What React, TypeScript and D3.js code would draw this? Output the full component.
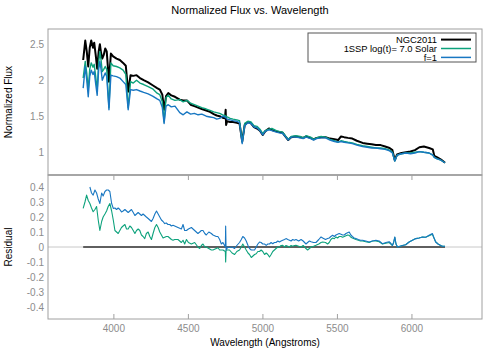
import React from "react";
import * as d3 from "d3";

// spectrum, top panel
const wave = [3794, 3808, 3818, 3828, 3838, 3848, 3860, 3868, 3878, 3888, 3898, 3906, 3914, 3922, 3932, 3942, 3952, 3967, 3980, 3995,
  4018, 4040, 4062, 4080, 4096, 4112, 4130, 4152, 4175, 4200, 4230, 4260, 4290, 4308, 4325, 4337, 4350, 4365, 4385, 4410,
  4442, 4465, 4490, 4515, 4540, 4565, 4590, 4620, 4645, 4670, 4690, 4710, 4730, 4745, 4750, 4753, 4760, 4780, 4800, 4825,
  4843, 4861, 4878, 4899, 4920, 4940, 4960, 4980, 4999, 5015, 5040, 5060, 5090, 5110, 5133, 5150, 5170, 5190, 5220, 5250,
  5270, 5290, 5320, 5340, 5360, 5390, 5420, 5450, 5480, 5505, 5524, 5545, 5570, 5600, 5630, 5669, 5700, 5730, 5758, 5790,
  5820, 5850, 5869, 5885, 5900, 5930, 5960, 5990, 6020, 6050, 6080, 6115, 6140, 6150, 6170, 6195, 6222];
const ngc2011 = [2.28, 2.55, 2.40, 2.19, 2.45, 2.55, 2.45, 2.52, 2.35, 2.16, 2.40, 2.50, 2.38, 2.30, 2.35, 2.44, 2.40, 1.98, 2.37, 2.33,
  2.30, 2.28, 2.24, 2.20, 1.84, 2.07, 2.06, 2.07, 2.03, 2.00, 1.97, 1.93, 1.89, 1.87, 1.80, 1.59, 1.78, 1.82, 1.79, 1.77,
  1.73, 1.72, 1.72, 1.66, 1.64, 1.62, 1.60, 1.58, 1.56, 1.53, 1.51, 1.50, 1.48, 1.47, 1.59, 1.38, 1.43, 1.42, 1.42, 1.41,
  1.40, 1.15, 1.38, 1.42, 1.40, 1.35, 1.33, 1.30, 1.24, 1.29, 1.33, 1.31, 1.29, 1.28, 1.27, 1.22, 1.17, 1.21, 1.22, 1.21,
  1.20, 1.22, 1.20, 1.18, 1.20, 1.21, 1.21, 1.19, 1.18, 1.17, 1.22, 1.21, 1.20, 1.19, 1.16, 1.13, 1.12, 1.11, 1.10, 1.10,
  1.08, 1.06, 1.03, 0.89, 0.97, 0.99, 1.00, 1.01, 1.03, 1.07, 1.08, 1.06, 1.04, 0.95, 0.93, 0.90, 0.855];
const ssp = [2.03, 2.26, 2.10, 1.87, 2.15, 2.24, 2.18, 2.22, 2.05, 1.86, 2.25, 2.40, 2.28, 2.12, 2.15, 2.19, 2.15, 1.62, 2.24, 2.20,
  2.19, 2.17, 2.14, 2.08, 1.62, 1.98, 1.96, 2.00, 1.96, 1.94, 1.91, 1.88, 1.82, 1.80, 1.70, 1.42, 1.76, 1.79, 1.74, 1.72,
  1.73, 1.70, 1.72, 1.68, 1.66, 1.64, 1.62, 1.60, 1.58, 1.56, 1.55, 1.54, 1.52, 1.51, 1.50, 1.50, 1.49, 1.47, 1.46, 1.45,
  1.44, 1.14, 1.40, 1.43, 1.42, 1.37, 1.36, 1.32, 1.26, 1.30, 1.32, 1.33, 1.30, 1.29, 1.28, 1.23, 1.18, 1.22, 1.23, 1.22,
  1.20, 1.23, 1.21, 1.18, 1.20, 1.22, 1.21, 1.18, 1.16, 1.14, 1.16, 1.15, 1.14, 1.13, 1.11, 1.09, 1.08, 1.07, 1.06, 1.06,
  1.05, 1.03, 1.00, 0.88, 0.96, 0.98, 0.99, 0.99, 1.00, 1.01, 1.00, 0.99, 0.96, 0.93, 0.91, 0.89, 0.855];
const fit = [1.89, 2.19, 2.00, 1.77, 2.05, 2.14, 2.08, 2.12, 1.95, 1.79, 2.15, 2.26, 2.15, 2.00, 2.05, 2.10, 2.05, 1.59, 2.07, 2.06,
  2.05, 2.03, 1.98, 1.94, 1.59, 1.87, 1.86, 1.87, 1.85, 1.83, 1.81, 1.78, 1.74, 1.72, 1.62, 1.40, 1.64, 1.66, 1.63, 1.64,
  1.55, 1.52, 1.56, 1.53, 1.54, 1.52, 1.53, 1.50, 1.49, 1.48, 1.46, 1.47, 1.50, 1.49, 1.48, 1.48, 1.46, 1.45, 1.44, 1.43,
  1.41, 1.12, 1.37, 1.41, 1.40, 1.35, 1.34, 1.30, 1.24, 1.29, 1.31, 1.30, 1.28, 1.27, 1.26, 1.22, 1.17, 1.21, 1.21, 1.20,
  1.19, 1.21, 1.19, 1.17, 1.19, 1.20, 1.20, 1.17, 1.15, 1.14, 1.15, 1.14, 1.13, 1.12, 1.10, 1.08, 1.07, 1.06, 1.06, 1.05,
  1.04, 1.02, 0.99, 0.88, 0.96, 0.98, 0.99, 0.98, 0.99, 1.01, 1.00, 0.99, 0.96, 0.93, 0.91, 0.89, 0.855];

// residuals, bottom panel
const resWave = [3794, 3806, 3817, 3828, 3839, 3850, 3861, 3873, 3884, 3895, 3906, 3918, 3928, 3940, 3951, 3962, 3973, 3985, 3996, 4007,
  4018, 4029, 4040, 4051, 4062, 4074, 4085, 4096, 4107, 4118, 4130, 4141, 4152, 4163, 4174, 4185, 4196, 4207, 4218, 4230,
  4241, 4252, 4263, 4275, 4286, 4297, 4308, 4319, 4330, 4341, 4352, 4363, 4375, 4386, 4397, 4408, 4430, 4453, 4464, 4475,
  4487, 4500, 4520, 4542, 4564, 4576, 4587, 4598, 4610, 4620, 4637, 4654, 4665, 4687, 4698, 4710, 4721, 4732, 4748, 4750,
  4753, 4765, 4776, 4793, 4810, 4825, 4843, 4855, 4865, 4877, 4888, 4900, 4910, 4922, 4933, 4944, 4955, 4966, 4977, 4988,
  4999, 5011, 5022, 5033, 5044, 5055, 5066, 5077, 5088, 5100, 5111, 5122, 5133, 5145, 5155, 5167, 5178, 5189, 5200, 5211,
  5222, 5240, 5256, 5270, 5289, 5300, 5312, 5323, 5340, 5356, 5375, 5390, 5401, 5420, 5434, 5445, 5456, 5468, 5479, 5490,
  5501, 5512, 5524, 5535, 5546, 5557, 5568, 5579, 5590, 5600, 5612, 5624, 5640, 5655, 5669, 5690, 5713, 5735, 5758, 5780,
  5802, 5825, 5847, 5858, 5869, 5877, 5885, 5893, 5903, 5920, 5936, 5958, 5981, 6003, 6026, 6048, 6070, 6092, 6115, 6137,
  6148, 6159, 6175, 6193, 6205, 6222];
const resSsp = [0.257, 0.30, 0.346, 0.31, 0.29, 0.26, 0.235, 0.25, 0.27, 0.18, 0.11, 0.17, 0.20, 0.22, 0.24, 0.27, 0.29, 0.24, 0.18, 0.11,
  0.10, 0.09, 0.11, 0.13, 0.14, 0.15, 0.12, 0.12, 0.14, 0.13, 0.11, 0.09, 0.11, 0.12, 0.11, 0.08, 0.07, 0.056, 0.09, 0.10,
  0.07, 0.05, 0.09, 0.13, 0.15, 0.13, 0.10, 0.08, 0.06, 0.065, 0.07, 0.07, 0.06, 0.05, 0.045, 0.05, 0.05, 0.03, 0.045, 0.02,
  0.05, 0.03, 0.02, 0.03, 0.00, -0.01, 0.01, 0.02, 0.00, 0.00, -0.01, -0.02, -0.02, -0.01, -0.005, -0.02, -0.02, -0.02, -0.03, -0.10,
  -0.02, -0.02, -0.02, -0.04, -0.05, -0.03, -0.02, 0.00, 0.02, 0.00, -0.02, -0.04, -0.05, -0.07, -0.06, -0.05, -0.045, -0.03, -0.03, -0.02,
  -0.03, -0.05, -0.04, -0.05, -0.067, -0.05, -0.03, -0.02, -0.01, 0.00, 0.00, 0.01, 0.011, 0.00, 0.01, 0.005, 0.00, 0.01, 0.005, 0.01,
  0.011, 0.005, 0.00, 0.01, -0.01, -0.02, -0.01, 0.00, 0.005, 0.011, 0.02, 0.03, 0.033, 0.03, 0.02, 0.03, 0.05, 0.06, 0.055, 0.067,
  0.06, 0.07, 0.07, 0.065, 0.07, 0.075, 0.08, 0.078, 0.065, 0.06, 0.055, 0.05, 0.045, 0.04, 0.04, 0.035, 0.03, 0.04, 0.04, 0.035,
  0.02, 0.025, 0.03, 0.02, 0.01, 0.03, 0.065, 0.02, 0.00, 0.005, 0.01, 0.015, 0.033, 0.045, 0.056, 0.06, 0.067, 0.065, 0.075, 0.085,
  0.06, 0.035, 0.02, 0.01, 0.005, 0.005];
const resFit = [null, null, null, null, 0.40, 0.36, 0.346, 0.38, 0.36, 0.32, 0.29, 0.36, 0.34, 0.37, 0.38, 0.38, 0.37, 0.29, 0.257, 0.26,
  0.25, 0.26, 0.25, 0.234, 0.24, 0.25, 0.24, 0.23, 0.24, 0.25, 0.23, 0.21, 0.22, 0.23, 0.22, 0.21, 0.22, 0.21, 0.20, 0.19,
  0.18, 0.17, 0.19, 0.22, 0.24, 0.22, 0.20, 0.18, 0.17, 0.156, 0.16, 0.15, 0.15, 0.14, 0.145, 0.14, 0.13, 0.12, 0.15, 0.11,
  0.11, 0.12, 0.13, 0.11, 0.09, 0.10, 0.11, 0.11, 0.09, 0.08, 0.10, 0.09, 0.08, 0.07, 0.07, 0.05, 0.02, 0.03, 0.00, 0.14,
  -0.02, 0.00, -0.003, 0.00, -0.01, 0.01, 0.03, 0.05, 0.07, 0.06, 0.04, 0.01, -0.01, -0.02, -0.02, -0.02, 0.00, 0.02, 0.033, 0.03,
  0.02, 0.02, 0.011, 0.02, 0.02, 0.03, 0.022, 0.03, 0.03, 0.04, 0.033, 0.04, 0.045, 0.05, 0.056, 0.05, 0.045, 0.04, 0.05, 0.045,
  0.05, 0.04, 0.05, 0.04, 0.02, 0.03, 0.04, 0.035, 0.03, 0.03, 0.05, 0.067, 0.06, 0.05, 0.056, 0.06, 0.07, 0.078, 0.07, 0.08,
  0.085, 0.09, 0.085, 0.08, 0.08, 0.09, 0.095, 0.10, 0.08, 0.07, 0.06, 0.056, 0.05, 0.045, 0.045, 0.04, 0.033, 0.04, 0.045, 0.04,
  0.022, 0.03, 0.035, 0.025, 0.01, 0.03, 0.067, 0.02, 0.00, 0.005, 0.01, 0.015, 0.033, 0.045, 0.056, 0.06, 0.067, 0.065, 0.078, 0.09,
  0.06, 0.033, 0.02, 0.01, 0.005, 0.005];

const xTicks = [4000, 4500, 5000, 5500, 6000];
const fluxTicks = [1, 1.5, 2, 2.5];
const resTicks = [-0.4, -0.3, -0.2, -0.1, 0, 0.1, 0.2, 0.3, 0.4];
const legendNames = ["NGC2011", "1SSP log(t)= 7.0 Solar", "f=1"];

const BLACK = "#000000";
const GREEN = "#0da27c";
const BLUE = "#1877c2";
const GRID = "#a0a0a0";
const LABEL = "#8c8c8c";
const FONT = "'Liberation Sans', Arial, sans-serif";

const left = 48, right = 482;
const topY0 = 29, topY1 = 175;
const botY0 = 175, botY1 = 319;

export default function App() {
  const x = d3.scaleLinear().domain([3558, 6470]).range([left, right]);
  const yTop = d3.scaleLinear().domain([0.685, 2.71]).range([topY1, topY0]);
  const yBot = d3.scaleLinear().domain([-0.48, 0.48]).range([botY1, botY0]);

  const topLine = (vals: number[]) =>
    d3.line<number>().x((_, i) => x(wave[i])).y((d) => yTop(d))(vals) || "";
  const botLine = (vals: (number | null)[]) =>
    d3.line<number | null>()
      .defined((d) => d !== null)
      .x((_, i) => x(resWave[i]))
      .y((d) => yBot(d as number))(vals) || "";

  const zeroObs = d3.line<number>().x((d) => x(d)).y(() => yBot(0))([resWave[0], resWave[resWave.length - 1]]) || "";

  const legendColors = [BLACK, GREEN, BLUE];
  const legendWidths = [2, 1.5, 1.5];

  return (
    <div style={{ position: "absolute", left: 0, top: 0 }}>
      <svg width={500} height={350} style={{ display: "block", background: "#fff" }} fontFamily={FONT}>
        <text x={250} y={14} textAnchor="middle" fontSize={11} fill="#000">Normalized Flux vs. Wavelength</text>

        {/* top panel */}
        <rect x={left} y={topY0} width={right - left} height={topY1 - topY0} fill="none" stroke={GRID} strokeWidth={1} />
        {fluxTicks.map((t) => (
          <text key={t} x={44} y={yTop(t)} dy="0.35em" textAnchor="end" fontSize={10} fill={LABEL}>{t}</text>
        ))}
        <text transform={`translate(12,${(topY0 + topY1) / 2}) rotate(-90)`} textAnchor="middle" fontSize={10} fill="#000">Normalized Flux</text>
        <path d={topLine(ngc2011)} fill="none" stroke={BLACK} strokeWidth={2} strokeLinejoin="round" />
        <path d={topLine(ssp)} fill="none" stroke={GREEN} strokeWidth={1.4} strokeLinejoin="round" />
        <path d={topLine(fit)} fill="none" stroke={BLUE} strokeWidth={1.4} strokeLinejoin="round" />

        {/* legend */}
        <rect x={308} y={33} width={168} height={29} fill="#fff" stroke="#555" strokeWidth={1} />
        {legendNames.map((n, i) => (
          <g key={n}>
            <text x={437} y={39.6 + i * 8.9} dy="0.33em" textAnchor="end" fontSize={9.4} fill="#000">{n}</text>
            <line x1={441} x2={471} y1={39.6 + i * 8.9} y2={39.6 + i * 8.9} stroke={legendColors[i]} strokeWidth={legendWidths[i]} />
          </g>
        ))}

        {/* residual panel */}
        <line x1={left} x2={right} y1={yBot(0)} y2={yBot(0)} stroke="#c8c8c8" strokeWidth={1} />
        <rect x={left} y={botY0} width={right - left} height={botY1 - botY0} fill="none" stroke={GRID} strokeWidth={1} />
        <line x1={left} x2={right} y1={botY0} y2={botY0} stroke={GRID} strokeWidth={1.6} />
        {xTicks.map((t) => (
          <g key={t}>
            <line x1={x(t)} x2={x(t)} y1={botY0} y2={botY0 + 5} stroke={GRID} />
            <line x1={x(t)} x2={x(t)} y1={botY1} y2={botY1 - 5} stroke={GRID} />
            <text x={x(t)} y={332} textAnchor="middle" fontSize={10} fill={LABEL}>{t}</text>
          </g>
        ))}
        {resTicks.map((t) => (
          <text key={t} x={44} y={yBot(t)} dy="0.35em" textAnchor="end" fontSize={10} fill={LABEL}>{t}</text>
        ))}
        <text transform={`translate(12,${yBot(0)}) rotate(-90)`} textAnchor="middle" fontSize={10} fill="#000">Residual</text>
        <text x={265} y={346} textAnchor="middle" fontSize={10} fill="#000">Wavelength (Angstroms)</text>
        <path d={zeroObs} fill="none" stroke="#333" strokeWidth={1.6} />
        <path d={botLine(resSsp)} fill="none" stroke={GREEN} strokeWidth={1.1} strokeLinejoin="round" />
        <path d={botLine(resFit)} fill="none" stroke={BLUE} strokeWidth={1.1} strokeLinejoin="round" />
      </svg>
    </div>
  );
}
